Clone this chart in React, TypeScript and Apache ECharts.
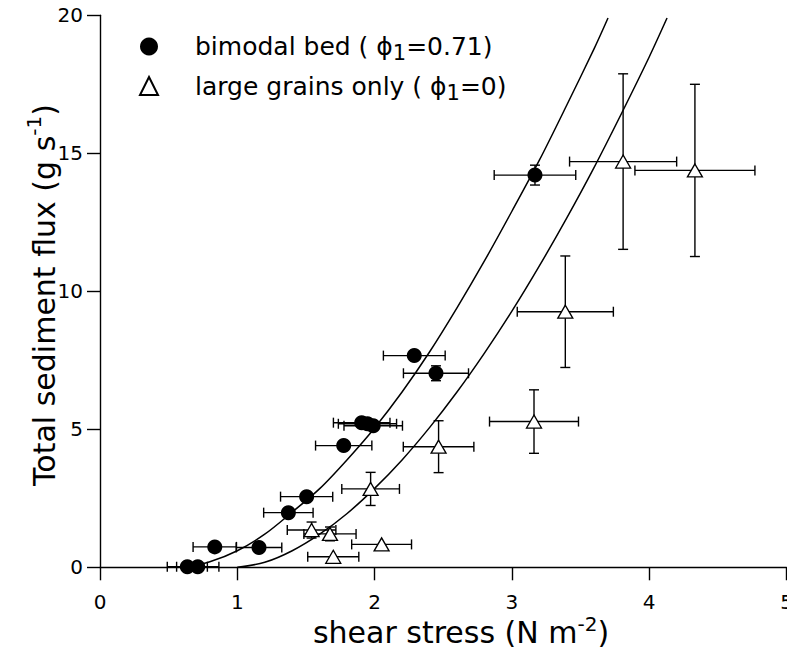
import React, { useEffect, useRef } from "react";
import * as echarts from "echarts";

// ---- data ----
const xTickValues = [0, 1, 2, 3, 4, 5];
const yTickValues = [0, 5, 10, 15, 20];

// bimodal bed (phi1 = 0.71), filled circles
const bimodalX = [0.636, 0.712, 0.836, 1.158, 1.372, 1.505, 1.775, 1.906, 1.948, 1.99, 2.289, 2.447, 3.168];
const bimodalY = [0.02, 0.02, 0.74, 0.72, 1.98, 2.56, 4.41, 5.24, 5.2, 5.13, 7.67, 7.03, 14.21];
const bimodalXErr = [0.146, 0.154, 0.158, 0.166, 0.18, 0.19, 0.205, 0.206, 0.212, 0.213, 0.225, 0.237, 0.297];
const bimodalYErr = [0, 0, 0, 0, 0, 0, 0, 0, 0, 0, 0, 0.27, 0.36];

// large grains only (phi1 = 0), open triangles
const largeX = [1.541, 1.675, 1.699, 2.051, 1.971, 2.466, 3.161, 3.389, 3.81, 4.333];
const largeY = [1.35, 1.21, 0.38, 0.83, 2.84, 4.37, 5.28, 9.26, 14.7, 14.38];
const largeXErr = [0.177, 0.19, 0.186, 0.218, 0.21, 0.257, 0.324, 0.35, 0.39, 0.437];
const largeYErr = [0.29, 0.25, 0, 0, 0.6, 0.94, 1.15, 2.02, 3.18, 3.12];

// fitted curves
const bimodalFitX = [0.62, 0.8, 1.0, 1.2, 1.4, 1.6, 1.8, 2.0, 2.2, 2.4, 2.6, 2.8, 3.0, 3.2, 3.4, 3.6, 3.7];
const bimodalFitY = [0, 0.2, 0.6, 1.2, 2.0, 2.85, 3.9, 5.05, 6.35, 7.8, 9.4, 11.1, 12.9, 14.75, 16.75, 18.8, 19.9];
const largeFitX = [1.0, 1.2, 1.4, 1.6, 1.8, 2.0, 2.2, 2.4, 2.6, 2.8, 3.0, 3.2, 3.4, 3.6, 3.8, 4.0, 4.13];
const largeFitY = [0, 0.18, 0.6, 1.2, 1.95, 2.86, 3.89, 5.06, 6.35, 7.76, 9.28, 10.92, 12.66, 14.5, 16.46, 18.49, 19.9];

const FONT = "DejaVu Sans";

const zip = (...arrs: number[][]) => arrs[0].map((_, i) => arrs.map((a) => a[i]));

const renderErr = (_params: any, api: any) => {
  const x = api.value(0);
  const y = api.value(1);
  const ex = api.value(2);
  const ey = api.value(3);
  const c = api.coord([x, y]);
  const style = { stroke: "#000", lineWidth: 1.4 };
  const cap = 5;
  const children: any[] = [];
  if (ex > 0) {
    const l = api.coord([x - ex, y]);
    const r = api.coord([x + ex, y]);
    children.push({ type: "line", shape: { x1: l[0], y1: c[1], x2: r[0], y2: c[1] }, style });
    children.push({ type: "line", shape: { x1: l[0], y1: c[1] - cap, x2: l[0], y2: c[1] + cap }, style });
    children.push({ type: "line", shape: { x1: r[0], y1: c[1] - cap, x2: r[0], y2: c[1] + cap }, style });
  }
  if (ey > 0) {
    const t = api.coord([x, y + ey]);
    const b = api.coord([x, y - ey]);
    children.push({ type: "line", shape: { x1: c[0], y1: t[1], x2: c[0], y2: b[1] }, style });
    children.push({ type: "line", shape: { x1: c[0] - cap, y1: t[1], x2: c[0] + cap, y2: t[1] }, style });
    children.push({ type: "line", shape: { x1: c[0] - cap, y1: b[1], x2: c[0] + cap, y2: b[1] }, style });
  }
  return { type: "group", children };
};

export default function App() {
  const ref = useRef<HTMLDivElement>(null);
  useEffect(() => {
    if (!ref.current) return;
    const chart = echarts.init(ref.current, undefined, { renderer: "svg" });
    const axisCommon = {
      axisLine: { show: true, lineStyle: { color: "#000", width: 1.4 } },
      axisTick: { show: true, inside: false, length: 13, lineStyle: { color: "#000", width: 1.4 } },
      splitLine: { show: false },
    };
    chart.setOption({
      animation: false,
      backgroundColor: "#fff",
      textStyle: { fontFamily: FONT },
      grid: { left: 100, top: 15.3, width: 686.5, height: 552, outerBoundsMode: "none", containLabel: false },
      xAxis: {
        type: "value",
        min: xTickValues[0],
        max: xTickValues[xTickValues.length - 1],
        interval: 1,
        ...axisCommon,
        axisLabel: { color: "#000", fontSize: 20, lineHeight: 18, fontFamily: FONT, margin: 26, hideOverlap: false },
      },
      yAxis: {
        type: "value",
        min: yTickValues[0],
        max: yTickValues[yTickValues.length - 1],
        interval: 5,
        ...axisCommon,
        axisLabel: { color: "#000", fontSize: 20, fontFamily: FONT, margin: 17 },
      },
      legend: {
        orient: "vertical",
        left: 134,
        top: 29,
        itemWidth: 18,
        itemHeight: 18,
        itemGap: 10,
        data: ["bimodal", "large"],
        formatter: (name: string) =>
          name === "bimodal"
            ? "{g|}{t|bimodal bed ( ϕ}{s|1}{t|=0.71)}"
            : "{g|}{t|large grains only ( ϕ}{s|1}{t|=0)}",
        textStyle: {
          color: "#000",
          rich: {
            g: { width: 32 },
            t: { fontSize: 25, fontFamily: FONT, color: "#000", lineHeight: 34 },
            s: { fontSize: 21, fontFamily: FONT, color: "#000", lineHeight: 20, verticalAlign: "bottom" },
          },
        },
      },
      graphic: [
        {
          type: "text",
          x: 461,
          y: 632,
          style: {
            text: "{t|shear stress (N m}{p|-2}{t|)}",
            align: "center",
            verticalAlign: "middle",
            rich: {
              t: { fontSize: 30, fontFamily: FONT, fill: "#000", lineHeight: 36 },
              p: { fontSize: 20, fontFamily: FONT, fill: "#000", lineHeight: 22, verticalAlign: "top" },
            },
          },
        },
        {
          type: "text",
          x: 44,
          y: 295,
          rotation: Math.PI / 2,
          style: {
            text: "{t|Total sediment flux (g s}{p|-1}{t|)}",
            align: "center",
            verticalAlign: "middle",
            rich: {
              t: { fontSize: 30, fontFamily: FONT, fill: "#000", lineHeight: 40 },
              p: { fontSize: 20, fontFamily: FONT, fill: "#000", lineHeight: 26, verticalAlign: "top" },
            },
          },
        },
      ],
      series: [
        {
          name: "bimodalFit",
          type: "line",
          data: zip(bimodalFitX, bimodalFitY),
          smooth: 0.3,
          showSymbol: false,
          symbol: "none",
          lineStyle: { color: "#000", width: 1.5 },
          z: 1,
        },
        {
          name: "largeFit",
          type: "line",
          data: zip(largeFitX, largeFitY),
          smooth: 0.3,
          showSymbol: false,
          symbol: "none",
          lineStyle: { color: "#000", width: 1.5 },
          z: 1,
        },
        {
          name: "bimodalErr",
          type: "custom",
          renderItem: renderErr,
          data: zip(bimodalX, bimodalY, bimodalXErr, bimodalYErr),
          z: 2,
        },
        {
          name: "largeErr",
          type: "custom",
          renderItem: renderErr,
          data: zip(largeX, largeY, largeXErr, largeYErr),
          z: 2,
        },
        {
          name: "bimodal",
          type: "scatter",
          data: zip(bimodalX, bimodalY),
          symbol: "circle",
          symbolSize: 15,
          itemStyle: { color: "#000", opacity: 1 },
          z: 3,
        },
        {
          name: "large",
          type: "scatter",
          data: zip(largeX, largeY),
          symbol: "triangle",
          symbolSize: [15, 13],
          itemStyle: { color: "#fff", borderColor: "#000", borderWidth: 1.3, opacity: 1 },
          z: 4,
        },
      ],
    });
    return () => chart.dispose();
  }, []);
  return (
    <div
      ref={ref}
      style={{ position: "absolute", left: 0, top: 0, width: 787, height: 649, background: "#fff" }}
    />
  );
}
